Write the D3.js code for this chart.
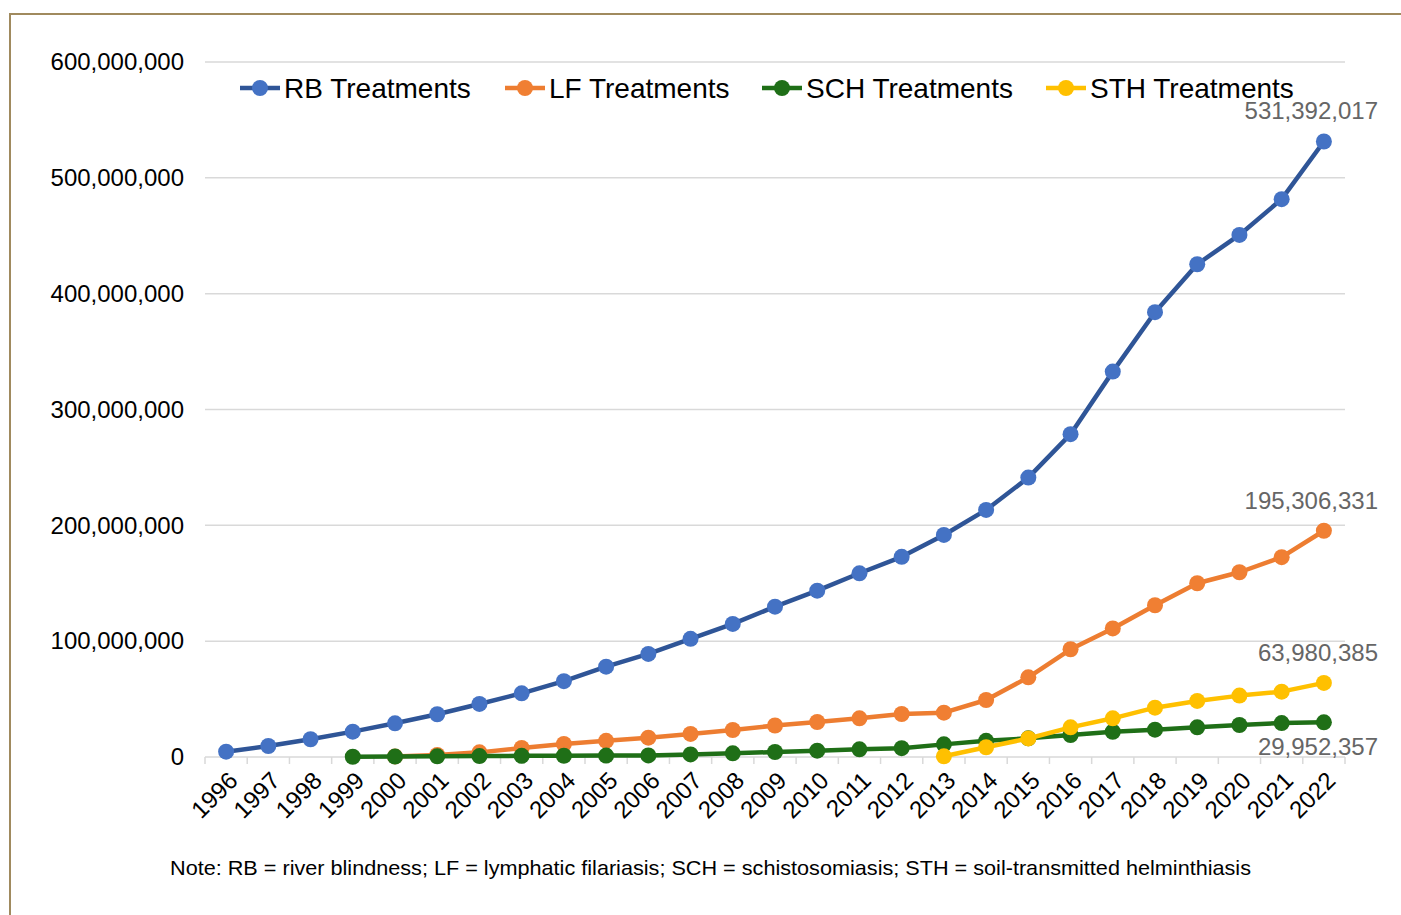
<!DOCTYPE html>
<html>
<head>
<meta charset="utf-8">
<script src="https://cdn.jsdelivr.net/npm/d3@7"></script>
<style>
  body { margin: 0; background: #fff; }
  text { font-family: "Liberation Sans", Arial, sans-serif; }
</style>
</head>
<body>
<div id="chart"></div>
<script>
var years = d3.range(1996, 2023).map(String);
// values per year, null = no treatments that year
var rbValues = [4.6e6, 9.5e6, 15.3e6, 21.9e6, 29.1e6, 36.9e6, 45.8e6, 55e6, 65.5e6, 78e6,
  89e6, 102e6, 114.9e6, 129.8e6, 143.6e6, 158.6e6, 172.8e6, 191.7e6, 213.3e6, 241.2e6,
  278.7e6, 332.7e6, 384e6, 425.4e6, 450.7e6, 481.6e6, 531392017];
var lfValues = [null, null, null, null, 0.5e6, 1.8e6, 4e6, 7.8e6, 11.2e6, 14e6,
  16.7e6, 19.9e6, 23.3e6, 27.2e6, 30.2e6, 33.4e6, 37.1e6, 38.3e6, 49.2e6, 68.8e6,
  93e6, 111e6, 131e6, 150e6, 159.5e6, 172.5e6, 195306331];
var schValues = [null, null, null, 0.2e6, 0.4e6, 0.6e6, 0.8e6, 1e6, 1.1e6, 1.2e6,
  1.4e6, 2.2e6, 3.2e6, 4.3e6, 5.5e6, 6.6e6, 7.6e6, 10.9e6, 14e6, 16.1e6,
  19e6, 21.8e6, 23.6e6, 25.6e6, 27.6e6, 29.3e6, 29952357];
var sthValues = [null, null, null, null, null, null, null, null, null, null,
  null, null, null, null, null, null, null, 0.6e6, 8.4e6, 16e6,
  25.6e6, 33.4e6, 42.6e6, 48.4e6, 53e6, 56.4e6, 63980385];
var seriesNames = ["RB Treatments", "LF Treatments", "SCH Treatments", "STH Treatments"];
var yTicks = [0, 100e6, 200e6, 300e6, 400e6, 500e6, 600e6];
var noteText = "Note: RB = river blindness; LF = lymphatic filariasis; SCH = schistosomiasis; STH = soil-transmitted helminthiasis";

var series = [
  { name: seriesNames[0], values: rbValues, line: "#2F5597", dot: "#4472C4", labelDy: -22 },
  { name: seriesNames[1], values: lfValues, line: "#ED7D31", dot: "#F07F33", labelDy: -22 },
  { name: seriesNames[2], values: schValues, line: "#1F6F17", dot: "#1F6F17", labelDy: 33 },
  { name: seriesNames[3], values: sthValues, line: "#FFC000", dot: "#FFC000", labelDy: -22 }
];

var W = 1401, H = 915;
var svg = d3.select("#chart").append("svg")
    .attr("width", W)
    .attr("height", H);

// brown frame (runs off the right and bottom edge)
svg.append("rect")
    .attr("x", 10).attr("y", 14)
    .attr("width", W).attr("height", H)
    .attr("fill", "none")
    .attr("stroke", "#A08A5E")
    .attr("stroke-width", 2);

var x = d3.scaleBand().domain(years).range([205, 1345]);
var y = d3.scaleLinear().domain([0, 600e6]).range([757, 62]);

// gridlines
svg.append("g").selectAll("line")
    .data(yTicks.slice(1))
    .enter().append("line")
      .attr("x1", 205).attr("x2", 1345)
      .attr("y1", function(d) { return y(d); })
      .attr("y2", function(d) { return y(d); })
      .attr("stroke", "#D9D9D9")
      .attr("stroke-width", 1.5);

// y axis labels
var yAxis = svg.append("g")
    .attr("transform", "translate(205,0)")
    .call(d3.axisLeft(y).tickValues(yTicks).tickSize(0).tickPadding(21).tickFormat(d3.format(",")));
yAxis.select(".domain").remove();
yAxis.selectAll("text")
    .attr("font-size", 24)
    .attr("font-family", "Liberation Sans, Arial, sans-serif")
    .attr("fill", "#000");

// x axis, ticks between categories like excel
var xAxis = svg.append("g")
    .attr("transform", "translate(0,757)");
xAxis.append("line")
    .attr("x1", 205).attr("x2", 1345)
    .attr("stroke", "#D9D9D9").attr("stroke-width", 1.5);
xAxis.selectAll(".tk")
    .data(years.concat(["end"]))
    .enter().append("line")
      .attr("class", "tk")
      .attr("x1", function(d, i) { return 205 + i * x.bandwidth(); })
      .attr("x2", function(d, i) { return 205 + i * x.bandwidth(); })
      .attr("y1", 0).attr("y2", 7)
      .attr("stroke", "#D9D9D9").attr("stroke-width", 1.5);
xAxis.selectAll(".yearLabel")
    .data(years)
    .enter().append("text")
      .attr("class", "yearLabel")
      .text(function(d) { return d; })
      .attr("font-size", 24)
      .attr("text-anchor", "end")
      .attr("transform", function(d) {
        return "translate(" + (x(d) + x.bandwidth() / 2 + 13) + ",25) rotate(-45)";
      });

// lines and markers
var line = d3.line()
    .defined(function(d) { return d.v != null; })
    .x(function(d) { return x(d.year) + x.bandwidth() / 2; })
    .y(function(d) { return y(d.v); });

series.forEach(function(s) {
  var pts = years.map(function(yr, i) { return { year: yr, v: s.values[i] }; });
  var g = svg.append("g");
  g.append("path")
      .datum(pts)
      .attr("d", line)
      .attr("fill", "none")
      .attr("stroke", s.line)
      .attr("stroke-width", 4.5)
      .attr("stroke-linejoin", "round");
  g.selectAll("circle")
      .data(pts.filter(function(d) { return d.v != null; }))
      .enter().append("circle")
        .attr("cx", function(d) { return x(d.year) + x.bandwidth() / 2; })
        .attr("cy", function(d) { return y(d.v); })
        .attr("r", 8)
        .attr("fill", s.dot);

  // label on the last point
  var last = pts[pts.length - 1];
  svg.append("text")
      .text(d3.format(",")(last.v))
      .attr("x", 1378)
      .attr("y", y(last.v) + s.labelDy)
      .attr("text-anchor", "end")
      .attr("font-size", 24)
      .attr("fill", "#666");
});

// legend
var legendX = [240, 505, 762, 1046];
var legend = svg.selectAll(".legend")
    .data(series)
    .enter().append("g")
      .attr("class", "legend")
      .attr("transform", function(d, i) { return "translate(" + legendX[i] + ",88)"; });
legend.append("line")
    .attr("x1", 0).attr("x2", 40)
    .attr("stroke", function(d) { return d.line; })
    .attr("stroke-width", 4.5);
legend.append("circle")
    .attr("cx", 20).attr("r", 8)
    .attr("fill", function(d) { return d.dot; });
legend.append("text")
    .text(function(d) { return d.name; })
    .attr("x", 44)
    .attr("dy", "0.35em")
    .attr("font-size", 28)
    .attr("fill", "#000");

// note under the chart
svg.append("text")
    .text(noteText)
    .attr("x", 170)
    .attr("y", 875)
    .attr("font-family", "Liberation Sans Narrow, Open Sans, sans-serif")
    .attr("font-size", 21)
    .attr("textLength", 1081)
    .attr("lengthAdjust", "spacingAndGlyphs")
    .attr("fill", "#000");
</script>
</body>
</html>
